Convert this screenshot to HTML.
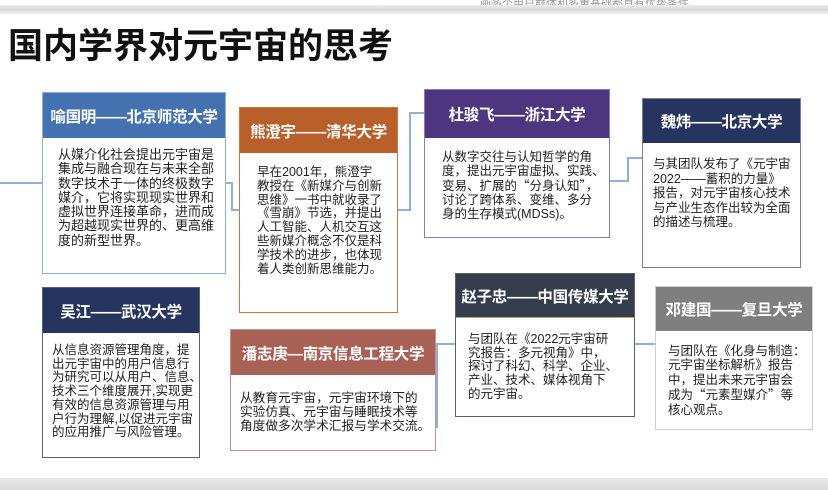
<!DOCTYPE html>
<html><head><meta charset="utf-8"><style>
*{margin:0;padding:0;box-sizing:border-box}
body{width:828px;height:490px;position:relative;overflow:hidden;background:#fff;font-family:"Liberation Sans","Noto Sans CJK SC",sans-serif}
.a{position:absolute}
.box{position:absolute;background:#fff;border:1.5px solid}
.hd{position:absolute;left:0;right:0;top:0;color:#fff;font-weight:bold;font-size:15.5px;display:flex;align-items:center;justify-content:center;white-space:nowrap;letter-spacing:-0.3px}
.tx{position:absolute;font-size:12.5px;line-height:14px;color:#222;white-space:nowrap}
.q{font-family:"Noto Sans CJK SC",sans-serif}
.ln{position:absolute;background:#8eb0df}
</style></head><body>
<div class="a" style="left:0;top:0;width:828px;height:6px;background:#fff"></div>
<div class="a" style="left:480px;top:-5px;font-size:11px;color:#999;white-space:nowrap">画多个用户群体和多重基础都具有优势条件</div>
<div class="a" style="left:0;top:5px;width:828px;height:9px;background:linear-gradient(#eee,#d8d8d8,#eee)"></div>
<div class="a" style="left:0;top:478px;width:828px;height:12px;background:linear-gradient(#e8e8e8,#dcdcdc)"></div>
<div class="a" style="left:8px;top:18px;font-size:35px;font-weight:bold;color:#111;white-space:nowrap">国内学界对元宇宙的思考</div>

<div class="ln" style="left:0;top:182px;width:43px;height:2px"></div>
<div class="ln" style="left:226px;top:182px;width:7px;height:2px"></div>
<div class="ln" style="left:231px;top:182px;width:2px;height:28px"></div>
<div class="ln" style="left:231px;top:209px;width:9px;height:2px"></div>
<div class="ln" style="left:398px;top:209px;width:13px;height:2px"></div>
<div class="ln" style="left:409px;top:112px;width:2px;height:99px"></div>
<div class="ln" style="left:409px;top:112px;width:16px;height:2px"></div>
<div class="ln" style="left:610px;top:180px;width:18px;height:2px"></div>
<div class="ln" style="left:627px;top:157px;width:2px;height:25px"></div>
<div class="ln" style="left:627px;top:157px;width:16px;height:2px"></div>
<div class="ln" style="left:436px;top:343px;width:20px;height:2px"></div>
<div class="ln" style="left:436px;top:343px;width:2px;height:85px"></div>
<div class="ln" style="left:635px;top:343px;width:21px;height:2px"></div>

<div class="box" style="left:42px;top:92px;width:184px;height:182px;border-color:#8eb0df">
<div class="hd" style="height:45px;background:#4472b0">喻国明——北京师范大学</div>
<div class="tx" style="left:15px;top:55px;font-size:13px;line-height:14.3px">从媒介化社会提出元宇宙是<br>集成与融合现在与未来全部<br>数字技术于一体的终极数字<br>媒介，它将实现现实世界和<br>虚拟世界连接革命，进而成<br>为超越现实世界的、更高维<br>度的新型世界。</div></div>
<div class="box" style="left:239px;top:107px;width:159px;height:206px;border-color:#c8773f">
<div class="hd" style="height:45px;background:#b85f2a">熊澄宇——清华大学</div>
<div class="tx" style="left:17px;top:58px;line-height:13.8px">早在2001年，熊澄宇<br>教授在《新媒介与创新<br>思维》一书中就收录了<br>《雪崩》节选，并提出<br>人工智能、人机交互这<br>些新媒介概念不仅是科<br>学技术的进步，也体现<br>着人类创新思维能力。</div></div>
<div class="box" style="left:424px;top:89px;width:186px;height:149px;border-color:#8c78b8">
<div class="hd" style="height:48px;background:#4e3580">杜骏飞——浙江大学</div>
<div class="tx" style="left:17px;top:60px">从数字交往与认知哲学的角<br>度，提出元宇宙虚拟、实践、<br>变易、扩展的<span class="q">“</span>分身认知<span class="q">”</span>，<br>讨论了跨体系、变维、多分<br>身的生存模式(MDSs)。</div></div>
<div class="box" style="left:642px;top:98px;width:159px;height:170px;border-color:#7a7f8c">
<div class="hd" style="height:44px;background:#253560">魏炜——北京大学</div>
<div class="tx" style="left:10px;top:58px;line-height:14.6px">与其团队发布了《元宇宙<br>2022——蓄积的力量》<br>报告，对元宇宙核心技术<br>与产业生态作出较为全面<br>的描述与梳理。</div></div>
<div class="box" style="left:42px;top:287px;width:158px;height:171px;border-color:#5a6070">
<div class="hd" style="height:45px;background:#253560">吴江——武汉大学</div>
<div class="tx" style="left:9px;top:56px;line-height:13.7px">从信息资源管理角度，提<br>出元宇宙中的用户信息行<br>为研究可以从用户、信息、<br>技术三个维度展开,实现更<br>有效的信息资源管理与用<br>户行为理解,以促进元宇宙<br>的应用推广与风险管理。</div></div>
<div class="box" style="left:230px;top:329px;width:206px;height:122px;border-color:#c98f88">
<div class="hd" style="height:45px;background:#a96156">潘志庚—南京信息工程大学</div>
<div class="tx" style="left:9px;top:61px;font-size:12.7px;line-height:14.2px">从教育元宇宙，元宇宙环境下的<br>实验仿真、元宇宙与睡眠技术等<br>角度做多次学术汇报与学术交流。</div></div>
<div class="box" style="left:455px;top:273px;width:180px;height:144px;border-color:#5a5f68">
<div class="hd" style="height:44px;background:#353d4d;border-bottom:1px solid #b8a868">赵子忠——中国传媒大学</div>
<div class="tx" style="left:12px;top:59px;line-height:13.7px">与团队在《2022元宇宙研<br>究报告：多元视角》中，<br>探讨了科幻、科学、企业、<br>产业、技术、媒体视角下<br>的元宇宙。</div></div>
<div class="box" style="left:655px;top:286px;width:158px;height:144px;border-color:#cfcfcf">
<div class="hd" style="height:44px;background:#7f7f7f">邓建国——复旦大学</div>
<div class="tx" style="left:12px;top:57px;line-height:14.4px">与团队在《化身与制造：<br>元宇宙坐标解析》报告<br>中，提出未来元宇宙会<br>成为<span class="q">“</span>元素型媒介<span class="q">”</span>等<br>核心观点。</div></div>
</body></html>
